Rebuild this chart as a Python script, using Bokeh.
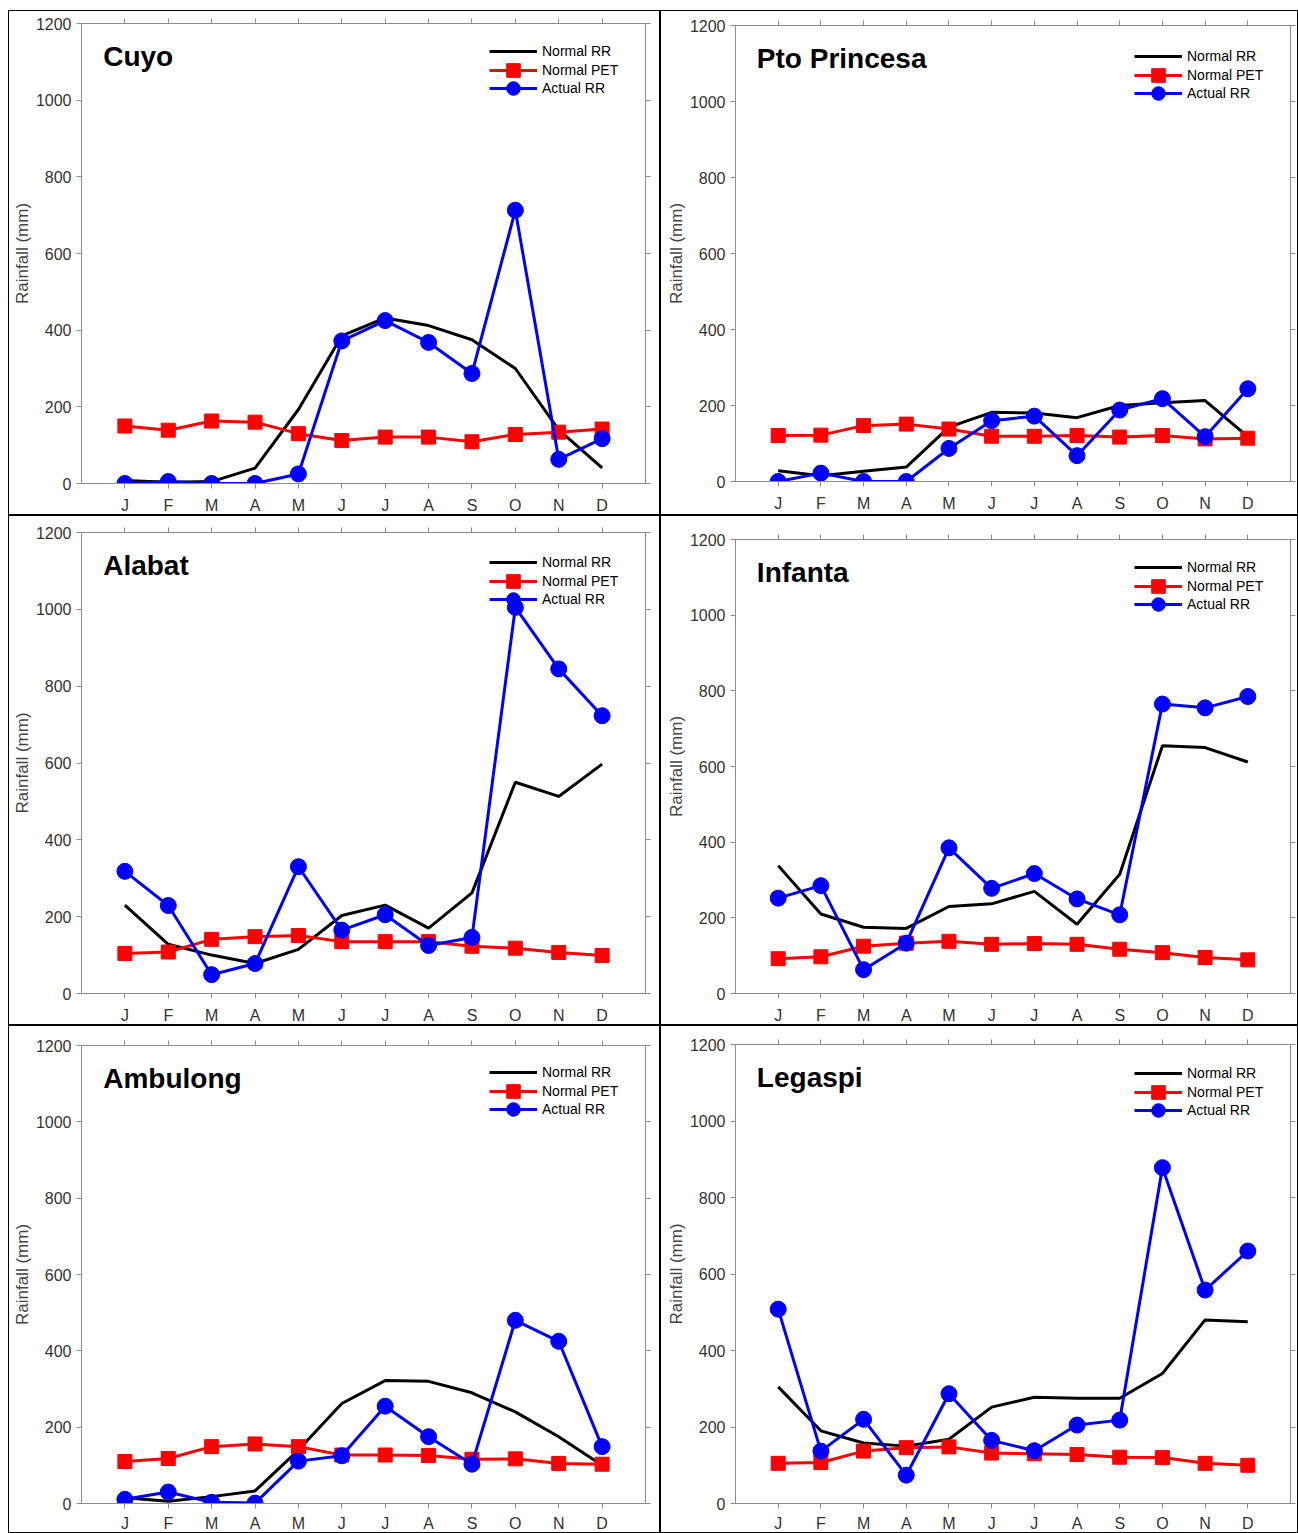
from bokeh.plotting import figure
from bokeh.layouts import row, column
from bokeh.models import (FixedTicker, LinearAxis, Label, Range1d, CustomJSTickFormatter,
                          Legend, LegendItem)
from bokeh.embed import file_html
from bokeh.resources import INLINE

months = ["J", "F", "M", "A", "M", "J", "J", "A", "S", "O", "N", "D"]
month_idx = list(range(1, 13))
y_ticks = [0, 200, 400, 600, 800, 1000, 1200]

stations = ["Cuyo", "Pto Princesa", "Alabat", "Infanta", "Ambulong", "Legaspi"]
series_names = ["Normal RR", "Normal PET", "Actual RR"]

cuyo_normal_rr = [8, 3, 5, 40, 193, 385, 432, 412, 375, 300, 140, 41]
cuyo_normal_pet = [150, 139, 163, 160, 130, 112, 121, 121, 109, 128, 134, 142]
cuyo_actual_rr = [0, 5, 0, 0, 25, 372, 425, 368, 287, 713, 63, 117]

pto_normal_rr = [28, 15, 27, 38, 143, 182, 180, 168, 200, 207, 213, 118]
pto_normal_pet = [121, 122, 147, 151, 138, 119, 119, 121, 117, 121, 112, 114]
pto_actual_rr = [0, 22, 0, 0, 87, 160, 172, 68, 188, 218, 118, 244]

alabat_normal_rr = [230, 128, 100, 78, 115, 203, 230, 170, 262, 550, 513, 597]
alabat_normal_pet = [104, 108, 141, 148, 151, 135, 135, 135, 123, 118, 107, 99]
alabat_actual_rr = [318, 229, 49, 78, 330, 165, 205, 125, 146, 1005, 845, 723]

infanta_normal_rr = [338, 210, 175, 172, 230, 237, 270, 183, 315, 655, 650, 612]
infanta_normal_pet = [92, 97, 125, 133, 138, 130, 132, 130, 117, 108, 95, 89]
infanta_actual_rr = [252, 285, 63, 133, 385, 278, 317, 250, 208, 765, 755, 785]

ambulong_normal_rr = [15, 6, 18, 33, 140, 262, 322, 320, 290, 240, 175, 100]
ambulong_normal_pet = [110, 118, 149, 156, 149, 127, 127, 126, 116, 117, 105, 103]
ambulong_actual_rr = [11, 30, 3, 1, 111, 125, 255, 175, 103, 480, 425, 149]

legaspi_normal_rr = [305, 190, 158, 150, 168, 252, 278, 275, 275, 340, 480, 475]
legaspi_normal_pet = [105, 107, 137, 146, 148, 132, 130, 128, 121, 120, 105, 100]
legaspi_actual_rr = [508, 137, 220, 74, 287, 165, 138, 205, 218, 878, 558, 660]

normal_rr = [cuyo_normal_rr, pto_normal_rr, alabat_normal_rr,
             infanta_normal_rr, ambulong_normal_rr, legaspi_normal_rr]
normal_pet = [cuyo_normal_pet, pto_normal_pet, alabat_normal_pet,
              infanta_normal_pet, ambulong_normal_pet, legaspi_normal_pet]
actual_rr = [cuyo_actual_rr, pto_actual_rr, alabat_actual_rr,
             infanta_actual_rr, ambulong_actual_rr, legaspi_actual_rr]

FONT = "Liberation Sans"
AXIS_GRAY = "#8c8c8c"
TEXT_GRAY = "#333333"

# panel geometry
col_widths = [652, 638]
col_left = [72, 74]
col_plot_w = [561, 552]
row_heights = [505, 510, 508]
tops = [[12, 14], [16, 23], [19, 18]]
plot_hs = [[460, 453], [459, 454], [459, 458]]
legend_rows = [28, 46.5, 65]


def style_axis(ax):
    ax.axis_line_color = AXIS_GRAY
    ax.major_tick_line_color = AXIS_GRAY
    ax.minor_tick_line_color = None
    ax.major_tick_out = 5
    ax.major_tick_in = 0
    ax.major_label_text_font = FONT
    ax.major_label_text_font_size = "16px"
    ax.major_label_text_color = TEXT_GRAY
    ax.axis_label_text_font = FONT
    ax.axis_label_text_font_size = "17px"
    ax.axis_label_text_font_style = "normal"
    ax.axis_label_text_color = "#444444"


def make_panel(i, r, c):
    width = col_widths[c]
    height = row_heights[r]
    pw = col_plot_w[c]
    ph = plot_hs[r][c]
    top_b = tops[r][c]
    bot_b = height - 3 - top_b - ph
    p = figure(width=width, height=height, output_backend="svg", toolbar_location=None,
               x_range=Range1d(0, 13), y_range=Range1d(0, 1200),
               min_border_left=col_left[c], min_border_right=width - 3 - col_left[c] - pw,
               min_border_top=top_b, min_border_bottom=bot_b,
               styles={"border": "1.5px solid black", "box-sizing": "border-box"})
    p.frame_align = False
    p.xgrid.visible = False
    p.ygrid.visible = False
    p.outline_line_color = AXIS_GRAY
    p.background_fill_color = "white"
    p.border_fill_color = "white"

    p.xaxis.ticker = FixedTicker(ticks=month_idx)
    p.xaxis.major_label_overrides = {m: lab for m, lab in zip(month_idx, months)}
    p.yaxis.ticker = FixedTicker(ticks=y_ticks)
    p.yaxis.axis_label = "Rainfall (mm)"
    style_axis(p.xaxis[0])
    style_axis(p.yaxis[0])
    p.yaxis.major_label_standoff = 5
    p.yaxis.axis_label_standoff = 1
    p.xaxis.major_label_standoff = 8 if r < 2 else 6

    top = LinearAxis(ticker=FixedTicker(ticks=month_idx), formatter=CustomJSTickFormatter(code="return ''"))
    right = LinearAxis(ticker=FixedTicker(ticks=y_ticks), formatter=CustomJSTickFormatter(code="return ''"))
    style_axis(top)
    style_axis(right)
    top.major_label_standoff = 0
    right.major_label_standoff = 0
    p.add_layout(top, "above")
    p.add_layout(right, "right")

    r_rr = p.line(month_idx, normal_rr[i], line_color="black", line_width=3)
    r_pet_l = p.line(month_idx, normal_pet[i], line_color="#ff0000", line_width=3)
    r_pet_m = p.scatter(month_idx, normal_pet[i], marker="square", size=14, fill_color="#ff0000",
                        line_color="#ff0000")
    r_act_l = p.line(month_idx, actual_rr[i], line_color="#0000ff", line_width=3)
    r_act_m = p.scatter(month_idx, actual_rr[i], marker="circle", size=16, fill_color="#0000ff",
                        line_color="#0000ff")

    p.add_layout(Label(x=0.5, y=1155, text=stations[i], text_font=FONT, text_font_style="bold",
                       text_font_size="28px", text_color="black", text_baseline="top"))

    item_renderers = [[r_rr], [r_pet_l, r_pet_m], [r_act_l, r_act_m]]
    for k in range(3):
        lg = Legend(items=[LegendItem(label=series_names[k], renderers=item_renderers[k])],
                    location=(pw - 153, ph - legend_rows[k] - 17))
        lg.border_line_color = None
        lg.background_fill_alpha = 0
        lg.label_text_font = FONT
        lg.label_text_font_size = "14px"
        lg.label_text_color = "black"
        lg.glyph_width = 48
        lg.glyph_height = 34
        lg.label_height = 18
        lg.label_standoff = 5
        lg.spacing = 0
        lg.padding = 0
        lg.margin = 0
        p.add_layout(lg)
    return p


rows = []
for r in range(3):
    rows.append(row([make_panel(r * 2 + c, r, c) for c in range(2)], spacing=0))

layout = column(rows, spacing=0)
layout.margin = (10, 0, 0, 8)

open("out.html", "w").write(file_html(layout, INLINE))
